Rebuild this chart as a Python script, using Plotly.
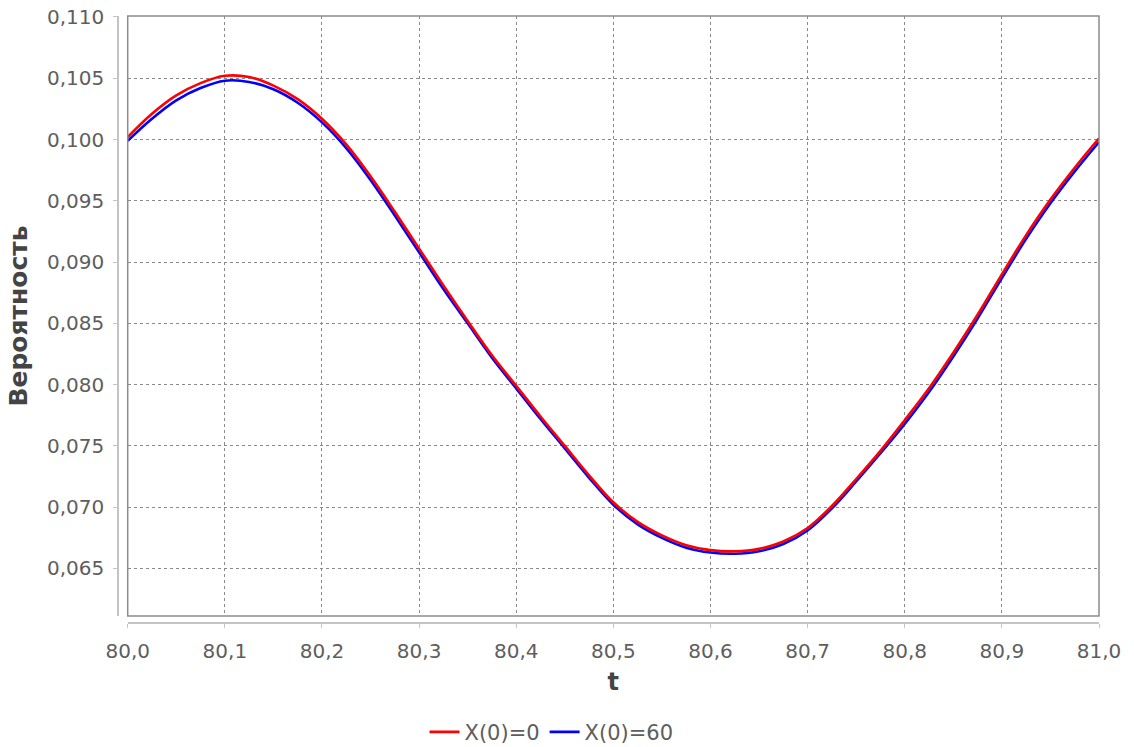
import plotly.graph_objects as go

# Time grid (t) and probability values for the two initial states
t = [80.000, 80.025, 80.050, 80.075, 80.100, 80.125, 80.150, 80.175, 80.200,
     80.225, 80.250, 80.275, 80.300, 80.325, 80.350, 80.375, 80.400, 80.425,
     80.450, 80.475, 80.500, 80.525, 80.550, 80.575, 80.600, 80.625, 80.650,
     80.675, 80.700, 80.725, 80.750, 80.775, 80.800, 80.825, 80.850, 80.875,
     80.900, 80.925, 80.950, 80.975, 81.000]

p_x0_0 = [0.1002, 0.1021, 0.1036, 0.1046, 0.1052, 0.1051, 0.1044, 0.1033, 0.1017,
          0.0996, 0.0970, 0.0941, 0.0911, 0.0881, 0.0852, 0.0824, 0.0799, 0.0774,
          0.0750, 0.0726, 0.0704, 0.0688, 0.0677, 0.0669, 0.0665, 0.0664, 0.0666,
          0.0672, 0.0683, 0.0701, 0.0723, 0.0746, 0.0771, 0.0797, 0.0826, 0.0857,
          0.0890, 0.0922, 0.0951, 0.0977, 0.1001]

p_x0_60 = [0.0999, 0.1017, 0.1032, 0.1042, 0.1048, 0.1047, 0.1041, 0.1030, 0.1014,
           0.0993, 0.0967, 0.0938, 0.0908, 0.0878, 0.0850, 0.0822, 0.0797, 0.0772,
           0.0748, 0.0724, 0.0702, 0.0686, 0.0675, 0.0667, 0.0663, 0.0662, 0.0664,
           0.0670, 0.0681, 0.0699, 0.0721, 0.0744, 0.0768, 0.0794, 0.0823, 0.0854,
           0.0887, 0.0919, 0.0948, 0.0974, 0.0998]

series_names = ["X(0)=0", "X(0)=60"]

FONT = "DejaVu Sans"
GRID = "#8a8a8a"
AXIS = "#c4c4c4"
TICKTXT = "#5e5e5e"

fig = go.Figure()
# blue drawn first so the red curve sits on top
fig.add_trace(go.Scatter(
    x=t, y=p_x0_60, mode="lines", name=series_names[1],
    line=dict(color="#0000ff", width=2.6, shape="spline", smoothing=1.0),
    legendrank=2,
))
fig.add_trace(go.Scatter(
    x=t, y=p_x0_0, mode="lines", name=series_names[0],
    line=dict(color="#ff0000", width=2.6, shape="spline", smoothing=1.0),
    legendrank=1,
))

fig.update_layout(
    width=1134, height=747,
    margin=dict(l=118, r=35, t=16, b=124, autoexpand=False),
    paper_bgcolor="white", plot_bgcolor="white",
    separators=", ",
    font=dict(family=FONT, size=20, color=TICKTXT),
    showlegend=True,
    legend=dict(
        orientation="h", x=0.4419, xanchor="center", y=-0.18, yanchor="middle",
        font=dict(family=FONT, size=21, color=TICKTXT),
        itemwidth=30, tracegroupgap=0,
    ),
    xaxis=dict(
        domain=[0.0099, 1.0], range=[80.0, 81.0],
        anchor="free", position=0.0, automargin=False,
        tickmode="linear", tick0=80.0, dtick=0.1, tickformat=".1f",
        showgrid=True, gridcolor=GRID, griddash="3px,3px", gridwidth=1,
        showline=True, linecolor=AXIS, linewidth=1.5,
        ticks="outside", ticklen=4, tickcolor=AXIS, tickwidth=1,
        ticklabelstandoff=6,
        tickfont=dict(family=FONT, size=20, color=TICKTXT),
        zeroline=False,
        title=dict(text="<b>t</b>", standoff=10,
                   font=dict(family=FONT, size=24, color="#444444")),
    ),
    yaxis=dict(
        domain=[0.0115, 1.0], range=[0.06112, 0.11008],
        anchor="free", position=0.0, automargin=False,
        tickmode="linear", tick0=0.0, dtick=0.005, tickformat=".3f",
        showgrid=True, gridcolor=GRID, griddash="3px,3px", gridwidth=1,
        showline=True, linecolor=AXIS, linewidth=1.5,
        ticks="outside", ticklen=4, tickcolor=AXIS, tickwidth=1,
        ticklabelstandoff=5,
        tickfont=dict(family=FONT, size=20, color=TICKTXT),
        zeroline=False,
        title=dict(text="<b>Вероятность</b>", standoff=11,
                   font=dict(family=FONT, size=25, color="#444444")),
    ),
    shapes=[dict(
        type="rect", xref="x domain", yref="y domain",
        x0=0, x1=1, y0=0, y1=1,
        line=dict(color="#8c8c8c", width=1.5), layer="above",
    )],
)

fig.write_html("out.html")
